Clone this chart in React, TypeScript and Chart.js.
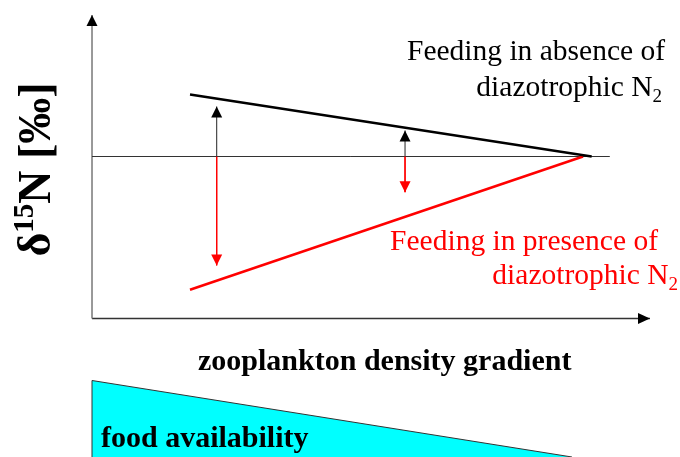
import React, { useEffect, useRef } from "react";
import { Chart, registerables } from "chart.js";

Chart.register(...registerables);

// Scale ranges (x: zooplankton density gradient units, y: δ15N relative to baseline)
const X_MIN = -1.649;
const X_MAX = 10.538;
const Y_MIN = -10.0167;
const Y_MAX = 5.2167;

// Axes and baseline
const yAxisLine = [{ x: 0, y: -5.4 }, { x: 0, y: 4.72 }];
const xAxisLine = [{ x: 0, y: -5.4 }, { x: 10, y: -5.4 }];
const baselineLine = [{ x: 0, y: 0 }, { x: 9.28, y: 0 }];

// Trend lines
const absenceLine = [{ x: 1.756, y: 2.07 }, { x: 8.955, y: 0 }];
const presenceLine = [{ x: 1.756, y: -4.44 }, { x: 8.8, y: 0 }];

// Arrows (offsets from baseline)
const arrowX = [2.235, 5.61];
const arrowUpTips = [1.667, 0.867];
const arrowDownTips = [-3.63, -1.19];

// Food availability wedge
const foodWedge = [{ x: 0, y: -10.0167 }, { x: 0, y: -7.467 }, { x: 8.602, y: -10.0167 }];

const SERIF = '"Liberation Serif", "Times New Roman", serif';

type Part = { text: string; font: string; dy: number };
type Label = { x: number; y: number; align: "left" | "right" | "center"; color: string; parts: Part[]; rotate?: boolean };

const reg = (s: number) => `${s}px ${SERIF}`;
const bold = (s: number) => `bold ${s}px ${SERIF}`;

const labels: Label[] = [
  { x: 10.27, y: 3.233, align: "right", color: "#000", parts: [{ text: "Feeding in absence of", font: reg(29.5), dy: 0 }] },
  {
    x: 10.215, y: 2.033, align: "right", color: "#000",
    parts: [{ text: "diazotrophic N", font: reg(29.5), dy: 0 }, { text: "2", font: reg(19), dy: 6 }],
  },
  { x: 10.143, y: -3.133, align: "right", color: "#ff0000", parts: [{ text: "Feeding in presence of", font: reg(29.5), dy: 0 }] },
  {
    x: 10.502, y: -4.243, align: "right", color: "#ff0000",
    parts: [{ text: "diazotrophic N", font: reg(29.5), dy: 0 }, { text: "2", font: reg(19), dy: 6 }],
  },
  { x: 1.9, y: -7.133, align: "left", color: "#000", parts: [{ text: "zooplankton density gradient", font: bold(30), dy: 0 }] },
  { x: 0.161, y: -9.7, align: "left", color: "#000", parts: [{ text: "food availability", font: bold(30), dy: 0 }] },
  {
    x: -0.753, y: -0.433, align: "center", color: "#000", rotate: true,
    parts: [
      { text: "δ", font: bold(46), dy: 0 },
      { text: "15", font: bold(29), dy: -17 },
      { text: "N [‰]", font: bold(46), dy: 0 },
    ],
  },
];

type Arrow = { from: { x: number; y: number }; to: { x: number; y: number }; color: string; len: number; width: number };

const arrows: Arrow[] = [
  { from: yAxisLine[0], to: yAxisLine[1], color: "#000", len: 11, width: 11 },
  { from: xAxisLine[0], to: xAxisLine[1], color: "#000", len: 12, width: 11 },
  ...arrowX.map((x, i) => ({ from: { x, y: 0 }, to: { x, y: arrowUpTips[i] }, color: "#000", len: 11, width: 11 })),
  ...arrowX.map((x, i) => ({ from: { x, y: 0 }, to: { x, y: arrowDownTips[i] }, color: "#ff0000", len: 11, width: 11 })),
];

const arrowPlugin = {
  id: "arrowHeads",
  afterDatasetsDraw(chart: any) {
    const { ctx, scales } = chart;
    const xs = scales.x;
    const ys = scales.y;
    ctx.save();
    for (const a of arrows) {
      const fx = xs.getPixelForValue(a.from.x);
      const fy = ys.getPixelForValue(a.from.y);
      const tx = xs.getPixelForValue(a.to.x);
      const ty = ys.getPixelForValue(a.to.y);
      const dx = tx - fx;
      const dy = ty - fy;
      const d = Math.hypot(dx, dy) || 1;
      const ux = dx / d;
      const uy = dy / d;
      const bx = tx - ux * a.len;
      const by = ty - uy * a.len;
      const px = -uy * (a.width / 2);
      const py = ux * (a.width / 2);
      ctx.beginPath();
      ctx.moveTo(tx, ty);
      ctx.lineTo(bx + px, by + py);
      ctx.lineTo(bx - px, by - py);
      ctx.closePath();
      ctx.fillStyle = a.color;
      ctx.fill();
    }
    ctx.restore();
  },
};

const textPlugin = {
  id: "richLabels",
  afterDraw(chart: any) {
    const { ctx, scales } = chart;
    for (const l of labels) {
      const px = scales.x.getPixelForValue(l.x);
      const py = scales.y.getPixelForValue(l.y);
      ctx.save();
      ctx.fillStyle = l.color;
      ctx.textBaseline = "alphabetic";
      ctx.textAlign = "left";
      const widths = l.parts.map((p) => {
        ctx.font = p.font;
        return ctx.measureText(p.text).width;
      });
      const total = widths.reduce((s, w) => s + w, 0);
      let ox = 0;
      let oy = 0;
      if (l.rotate) {
        ctx.translate(px, py);
        ctx.rotate(-Math.PI / 2);
      } else {
        ox = px;
        oy = py;
      }
      let start = l.align === "right" ? ox - total : l.align === "center" ? ox - total / 2 : ox;
      l.parts.forEach((p, i) => {
        ctx.font = p.font;
        ctx.fillText(p.text, start, oy + p.dy);
        start += widths[i];
      });
      ctx.restore();
    }
  },
};

const line = (data: any[], color: string, width: number, order: number, extra: any = {}) => ({
  data,
  showLine: true,
  borderColor: color,
  borderWidth: width,
  pointRadius: 0,
  pointHoverRadius: 0,
  fill: false,
  order,
  ...extra,
});

export default function App() {
  const ref = useRef<HTMLCanvasElement | null>(null);
  useEffect(() => {
    if (!ref.current) return;
    const datasets: any[] = [
      line(foodWedge, "#333", 1, 20, { fill: "start", backgroundColor: "#00ffff" }),
      line(yAxisLine, "#777", 1.5, 10),
      line(xAxisLine, "#333", 1.5, 10),
      line(baselineLine, "#333", 1, 9),
      ...arrowX.map((x, i) => line([{ x, y: 0 }, { x, y: arrowUpTips[i] }], "#222", 1, 5)),
      ...arrowX.map((x, i) => line([{ x, y: 0 }, { x, y: arrowDownTips[i] }], "#ff0000", 1, 5)),
      line(absenceLine, "#000", 2.5, 1),
      line(presenceLine, "#ff0000", 2.5, 2),
    ];
    const chart = new Chart(ref.current, {
      type: "scatter",
      data: { datasets },
      options: {
        responsive: false,
        animation: false,
        devicePixelRatio: 1,
        events: [],
        layout: { padding: 0, autoPadding: false },
        scales: {
          x: { type: "linear", min: X_MIN, max: X_MAX, display: false },
          y: { type: "linear", min: Y_MIN, max: Y_MAX, display: false },
        },
        plugins: { legend: { display: false }, tooltip: { enabled: false } },
      },
      plugins: [arrowPlugin, textPlugin],
    } as any);
    return () => chart.destroy();
  }, []);
  return (
    <div style={{ position: "fixed", left: 0, top: 0, width: 680, height: 457, background: "#fff" }}>
      <canvas ref={ref} width={680} height={457} style={{ display: "block" }} />
    </div>
  );
}
